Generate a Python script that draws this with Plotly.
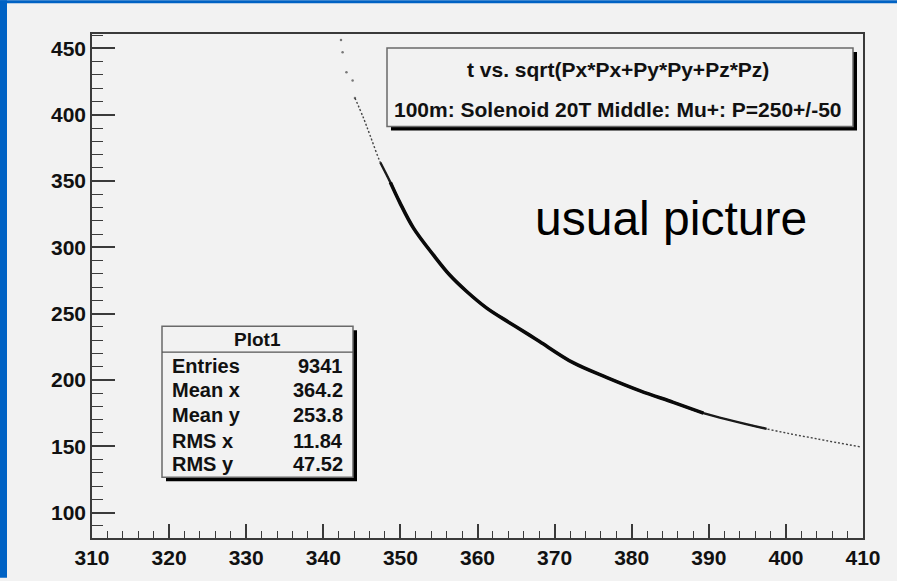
import plotly.graph_objects as go

# Time of flight t (ns) against total momentum sqrt(Px^2+Py^2+Pz^2) (MeV/c),
# sampled along the centre of the populated band.
curve_t = [342.3, 342.5, 343.0, 343.8, 344.1, 345.2, 346.1, 347.4, 348.7, 349.9,
           351.7, 354.3, 356.4, 358.6, 361.2, 364.2, 366.8, 368.1, 372.4, 376.8,
           381.1, 385.4, 389.3, 397.5, 404.0, 409.8]
curve_p = [456.3, 447.1, 432.1, 425.8, 412.7, 397.7, 383.9, 364.0, 349.0, 334.1,
           314.5, 294.1, 279.1, 266.7, 254.2, 243.0, 233.6, 228.8, 213.0, 201.8,
           191.8, 183.1, 175.0, 163.1, 155.6, 149.4]

x_range = [310, 410]
y_range = [80.8, 460.9]
x_major = list(range(310, 411, 10))
y_major = list(range(100, 451, 50))

title_lines = ["t vs. sqrt(Px*Px+Py*Py+Pz*Pz)",
               "100m: Solenoid 20T Middle: Mu+: P=250+/-50"]
stats_name = "Plot1"
stats_labels = ["Entries", "Mean x", "Mean y", "RMS x", "RMS y"]
stats_values = ["9341", "364.2", "253.8", "11.84", "47.52"]
note_text = "usual picture"

# canvas geometry (pixels)
W_FIG, H_FIG = 897, 581
L, R, T, B = 92, 34, 34, 40
W = W_FIG - L - R
H = H_FIG - T - B


def px(x):
    return (x - L) / W


def py(y):
    return (T + H - y) / H


FONT = "Liberation Sans"
INK = "#111111"
FRAME = "#3a3a3a"
PANEL = "#f2f2f2"

fig = go.Figure()

# sparse entries at high momentum
fig.add_trace(go.Scatter(x=curve_t[0:5], y=curve_p[0:5], mode="markers",
                         marker=dict(size=2.5, color="#777777"), hoverinfo="skip"))
# thin trace along the whole band
fig.add_trace(go.Scatter(x=curve_t[4:], y=curve_p[4:], mode="lines",
                         line=dict(width=1.4, color="#444444", dash="2px,2px", shape="spline"),
                         hoverinfo="skip"))
# body of the band, getting thinner at long flight times
fig.add_trace(go.Scatter(x=curve_t[7:24], y=curve_p[7:24], mode="lines",
                         line=dict(width=2.4, color="#1a1a1a", shape="spline"), hoverinfo="skip"))
fig.add_trace(go.Scatter(x=curve_t[8:23], y=curve_p[8:23], mode="lines",
                         line=dict(width=3.6, color="#0a0a0a", shape="spline"), hoverinfo="skip"))

shapes = []
# slide background strips
shapes.append(dict(type="rect", xref="paper", yref="paper", x0=px(0), x1=px(7), y0=py(H_FIG), y1=py(0),
                   fillcolor="#0062c4", line=dict(width=0), layer="below"))
shapes.append(dict(type="rect", xref="paper", yref="paper", x0=px(0), x1=px(W_FIG), y0=py(3), y1=py(0),
                   fillcolor="#0062c4", line=dict(width=0), layer="below"))


def boxed(x0, x1, y0, y1, off=4):
    shapes.append(dict(type="rect", xref="paper", yref="paper",
                       x0=px(x0 + off), x1=px(x1 + off), y0=py(y1 + off), y1=py(y0 + off),
                       fillcolor="#000000", line=dict(width=0)))
    shapes.append(dict(type="rect", xref="paper", yref="paper",
                       x0=px(x0), x1=px(x1), y0=py(y1), y1=py(y0),
                       fillcolor=PANEL, line=dict(width=1.5, color="#6a6a6a")))


# title pave
boxed(387, 853, 48, 127)
# statistics box
boxed(162, 353, 328, 480)
shapes.append(dict(type="line", xref="paper", yref="paper", x0=px(162), x1=px(353),
                   y0=py(354), y1=py(354), line=dict(width=1.3, color="#555555")))

ann = []
for text, yc in zip(title_lines, [70, 110]):
    ann.append(dict(text=text, x=px(618), y=py(yc), xref="paper", yref="paper",
                    xanchor="center", yanchor="middle", showarrow=False,
                    font=dict(family=FONT, size=21, color=INK, weight="bold")))

ann.append(dict(text=stats_name, x=px(257), y=py(341), xref="paper", yref="paper",
                xanchor="center", yanchor="middle", showarrow=False,
                font=dict(family=FONT, size=19, color=INK, weight="bold")))
for lab, val, yc in zip(stats_labels, stats_values, [368, 392, 417, 443, 467]):
    ann.append(dict(text=lab, x=px(170), y=py(yc), xref="paper", yref="paper",
                    xanchor="left", yanchor="middle", showarrow=False,
                    font=dict(family=FONT, size=20, color=INK, weight="bold")))
    ann.append(dict(text=val, x=px(345), y=py(yc), xref="paper", yref="paper",
                    xanchor="right", yanchor="middle", showarrow=False,
                    font=dict(family=FONT, size=20, color=INK, weight="bold")))

ann.append(dict(text=note_text, x=px(671), y=py(220), xref="paper", yref="paper",
                xanchor="center", yanchor="middle", showarrow=False,
                font=dict(family=FONT, size=48, color="#000000")))

axis_common = dict(
    showgrid=False, zeroline=False, showline=True, linecolor=FRAME, linewidth=1.5,
    mirror=True, ticks="inside", tickcolor=FRAME, tickwidth=1.5,
    tickfont=dict(family=FONT, size=21, color=INK, weight="bold"),
)

fig.update_layout(
    width=W_FIG, height=H_FIG,
    margin=dict(l=L, r=R, t=T, b=B, pad=0),
    paper_bgcolor=PANEL, plot_bgcolor=PANEL,
    showlegend=False,
    xaxis=dict(range=x_range, tickvals=x_major, ticklen=14,
               minor=dict(tick0=310, dtick=2, ticks="inside", ticklen=7,
                          tickcolor=FRAME, tickwidth=1.2, showgrid=False),
               **axis_common),
    yaxis=dict(range=y_range, tickvals=y_major, ticklen=23,
               minor=dict(tick0=100, dtick=10, ticks="inside", ticklen=11,
                          tickcolor=FRAME, tickwidth=1.2, showgrid=False),
               **axis_common),
    shapes=shapes,
    annotations=ann,
)

fig.write_html("out.html", config={"displayModeBar": False})
